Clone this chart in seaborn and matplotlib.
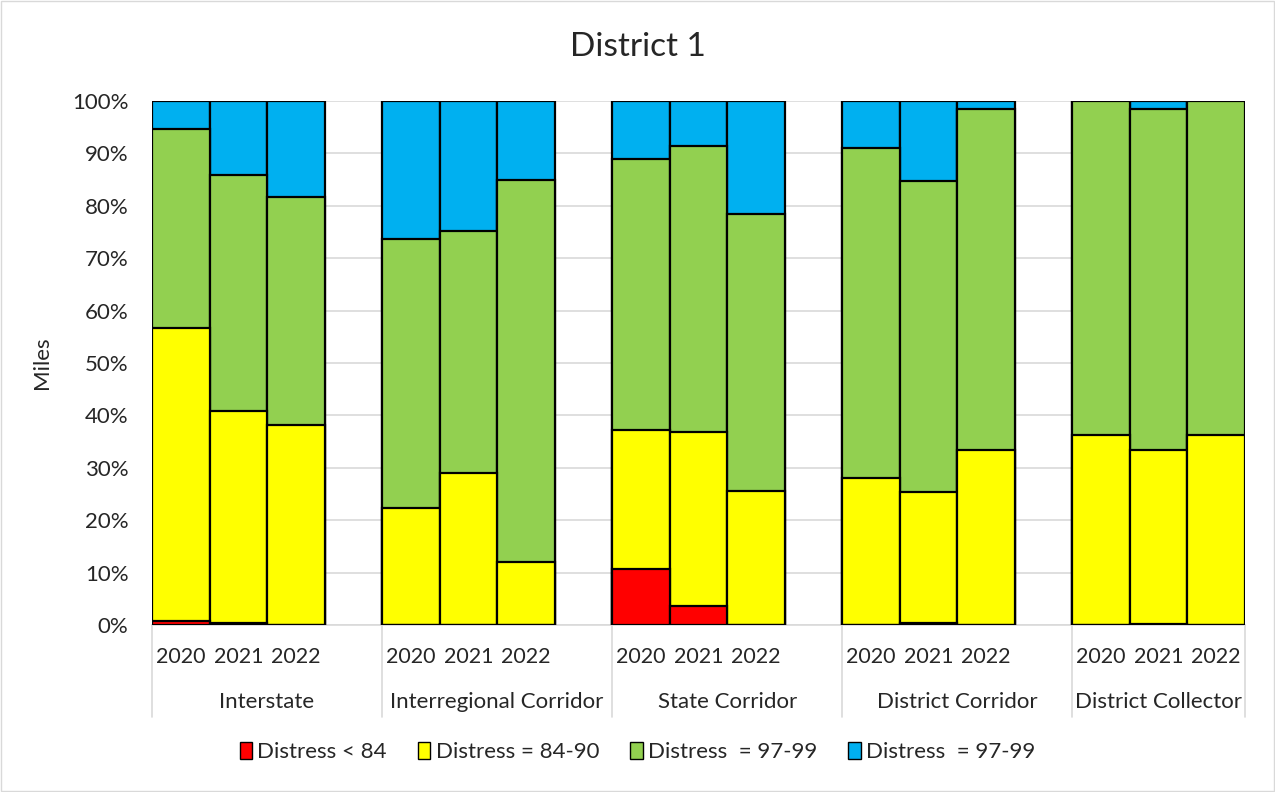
import matplotlib
matplotlib.use("Agg")
import matplotlib.pyplot as plt
import matplotlib.patches as mpatches
import matplotlib.transforms as mtransforms
import numpy as np
import seaborn as sns

groups = ["Interstate", "Interregional Corridor", "State Corridor",
          "District Corridor", "District Collector"]
years = ["2020", "2021", "2022"]

# share of miles (%) per layer, 3 years per group
red = [0.7, 0.3, 0.0, 0.0, 0.0, 0.0, 10.7, 3.6, 0.0, 0.0, 0.3, 0.0, 0.0, 0.2, 0.0]
yellow = [56.0, 40.5, 38.2, 22.3, 29.0, 12.0, 26.6, 33.3, 25.5,
          28.0, 25.1, 33.4, 36.2, 33.2, 36.2]
green = [38.0, 45.0, 43.4, 51.4, 46.1, 72.9, 51.7, 54.6, 52.9,
         63.1, 59.3, 65.0, 63.8, 65.0, 63.8]
blue = [5.3, 14.2, 18.4, 26.3, 24.9, 15.1, 11.0, 8.5, 21.6,
        8.9, 15.3, 1.6, 0.0, 1.6, 0.0]

labels = ["Distress < 84", "Distress = 84-90", "Distress  = 97-99", "Distress  = 97-99"]
colors = ["#FF0000", "#FFFF00", "#92D050", "#00B0F0"]

sns.set_style("white")
plt.rcParams["font.family"] = ["Lato", "DejaVu Sans"]

fig = plt.figure(figsize=(12.75, 7.92), dpi=100)
ax = fig.add_axes([152 / 1275, 1 - 625 / 792, (1245 - 152) / 1275, 524 / 792])

# positions: 3 bars per group, one empty slot between groups
pos = np.array([g * 4 + j for g in range(len(groups)) for j in range(3)], dtype=float)

layers = np.array([red, yellow, green, blue])
cum = np.cumsum(layers, axis=0)

for i in range(3, -1, -1):
    sns.barplot(x=pos, y=cum[i], native_scale=True, width=1, color=colors[i],
                edgecolor="black", linewidth=1.6, errorbar=None, saturation=1,
                ax=ax, zorder=3)

ax.set_xlim(-0.5, 18.5)
ax.set_ylim(0, 100)
ax.set_yticks(np.arange(0, 101, 10))
ax.set_yticklabels([f"{v}%" for v in range(0, 101, 10)], fontsize=16)
ax.yaxis.grid(True, color="#d9d9d9", linewidth=1.2, zorder=0)
ax.set_axisbelow(True)
ax.tick_params(axis="y", length=0, pad=17)
ax.set_xticks([])
ax.set_xlabel("")
for s in ["top", "right", "left"]:
    ax.spines[s].set_visible(False)
ax.spines["bottom"].set_color("#d9d9d9")
ax.spines["bottom"].set_linewidth(1.2)
ax.set_ylabel("Miles", fontsize=16)
ax.yaxis.set_label_coords((52 - 152) / 1093, 0.5)

# two-level category axis
trans = mtransforms.blended_transform_factory(ax.transData, ax.transAxes)
for p, yr in zip(pos, years * len(groups)):
    ax.text(p, -0.062, yr, transform=trans, ha="center", va="center", fontsize=15.5)
edges = [-0.5, 3.5, 7.5, 11.5, 15.5, 18.5]
for g, name in enumerate(groups):
    ax.text((edges[g] + edges[g + 1]) / 2, -0.147, name, transform=trans,
            ha="center", va="center", fontsize=16)
for e in edges:
    ax.plot([e, e], [0, -0.176], transform=trans, color="#d9d9d9",
            linewidth=1.2, clip_on=False)

fig.text(0.5, 1 - 47 / 792, "District 1", ha="center", va="center", fontsize=24)

handles = [mpatches.Patch(facecolor=c, edgecolor="black", linewidth=1) for c in colors]
fig.legend(handles, labels, loc="center", bbox_to_anchor=(0.5, 1 - 752 / 792),
           ncol=4, frameon=False, fontsize=16, handlelength=0.55, handleheight=0.8,
           handletextpad=0.25, columnspacing=1.4)

fig.patches.append(mpatches.Rectangle((0.001, 0.001), 0.998, 0.998, transform=fig.transFigure,
                                      fill=False, edgecolor="#d9d9d9", linewidth=1))

plt.savefig("out.png", dpi=100)
